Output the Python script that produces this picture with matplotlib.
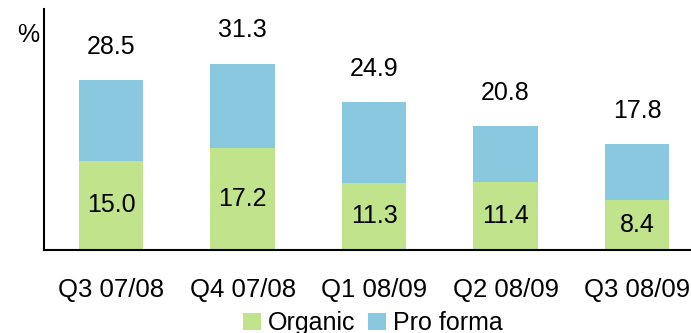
import matplotlib
matplotlib.use("Agg")
import matplotlib.pyplot as plt
import numpy as np

plt.rcParams["font.family"] = ["Liberation Sans", "DejaVu Sans"]

quarters = ["Q3 07/08", "Q4 07/08", "Q1 08/09", "Q2 08/09", "Q3 08/09"]
organic = [15.0, 17.2, 11.3, 11.4, 8.4]
total = [28.5, 31.3, 24.9, 20.8, 17.8]
pro_forma = [t - o for t, o in zip(total, organic)]

green = "#c1e38b"
blue = "#8ac8e0"

fig = plt.figure(figsize=(6.91, 3.33), dpi=100)
ax = fig.add_axes([0.0637, 0.249, 0.9363, 0.724])

x = np.arange(len(quarters))
w = 0.49
ax.bar(x, organic, w, color=green, label="Organic")
ax.bar(x, pro_forma, w, bottom=organic, color=blue, label="Pro forma")

for xi, o, t in zip(x, organic, total):
    ax.text(xi, o / 2, f"{o:.1f}", ha="center", va="center", fontsize=18)
    ax.text(xi, t + 5.6, f"{t:.1f}", ha="center", va="center", fontsize=18)

ax.set_xlim(-0.51, 4.41)
ax.set_ylim(0, 40.5)
ax.set_xticks(x)
ax.set_xticklabels(quarters, fontsize=18.5)
ax.tick_params(axis="x", length=0, pad=20)
ax.set_yticks([])
for s in ("top", "right"):
    ax.spines[s].set_visible(False)
ax.spines["left"].set_linewidth(1.5)
ax.spines["bottom"].set_linewidth(1.5)

fig.text(0.041, 0.895, "%", ha="center", va="center", fontsize=18)

fig.legend(loc="lower center", bbox_to_anchor=(0.54, -0.075), ncol=2,
           frameon=False, fontsize=18, handlelength=0.7, handleheight=0.7,
           handletextpad=0.3, columnspacing=0.5)

fig.savefig("out.png", dpi=100)
